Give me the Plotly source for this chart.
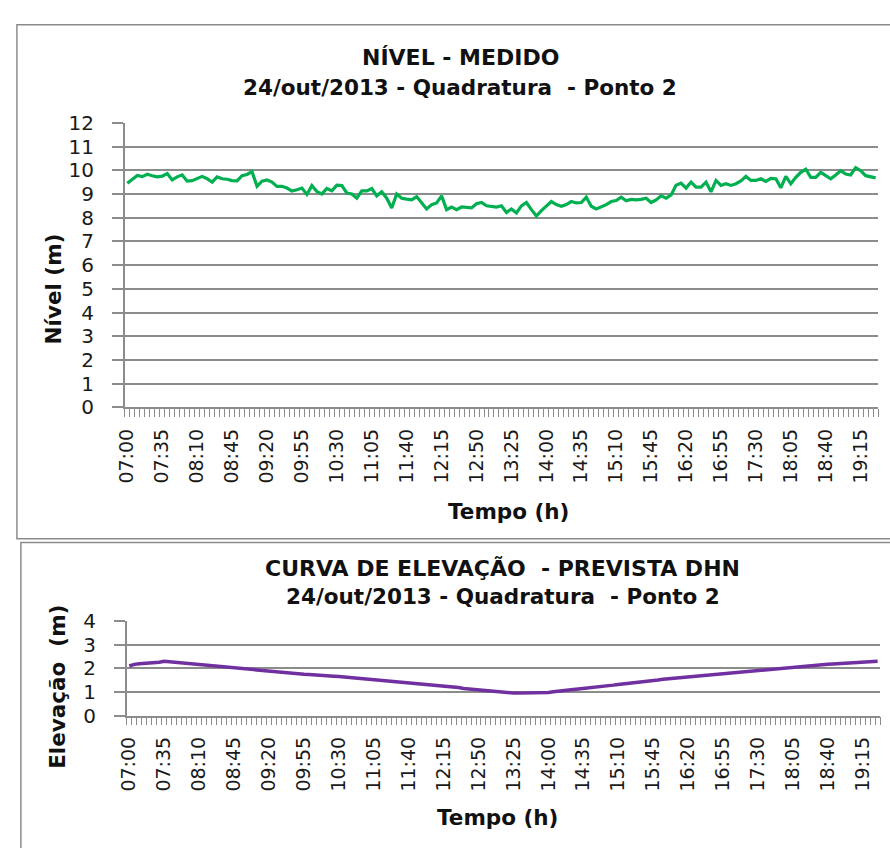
import plotly.graph_objects as go

# ---------------- data ----------------
start_minutes = 7 * 60
n_points = 151
times = ["%02d:%02d" % divmod(start_minutes + 5 * k, 60) for k in range(n_points)]

nivel = [
    9.45, 9.62, 9.78, 9.73, 9.83, 9.77, 9.72, 9.75, 9.86, 9.59,
    9.72, 9.80, 9.54, 9.56, 9.65, 9.74, 9.64, 9.50, 9.72, 9.64,
    9.62, 9.56, 9.55, 9.77, 9.82, 9.94, 9.32, 9.54, 9.59, 9.50,
    9.32, 9.32, 9.25, 9.12, 9.18, 9.25, 8.98, 9.35, 9.10, 9.00,
    9.23, 9.13, 9.37, 9.35, 9.04, 9.00, 8.82, 9.13, 9.13, 9.23,
    8.92, 9.09, 8.82, 8.41, 9.00, 8.82, 8.78, 8.75, 8.89, 8.62,
    8.37, 8.55, 8.62, 8.92, 8.34, 8.45, 8.34, 8.45, 8.42, 8.41,
    8.59, 8.64, 8.50, 8.48, 8.45, 8.50, 8.22, 8.37, 8.20, 8.50,
    8.64, 8.34, 8.07, 8.30, 8.48, 8.68, 8.55, 8.48, 8.55, 8.68,
    8.62, 8.64, 8.86, 8.48, 8.37, 8.45, 8.55, 8.68, 8.72, 8.86,
    8.71, 8.77, 8.75, 8.77, 8.82, 8.64, 8.75, 8.92, 8.82, 8.96,
    9.37, 9.46, 9.25, 9.50, 9.29, 9.29, 9.50, 9.09, 9.57, 9.36,
    9.43, 9.36, 9.43, 9.55, 9.74, 9.57, 9.57, 9.64, 9.53, 9.66,
    9.64, 9.26, 9.74, 9.43, 9.70, 9.91, 10.04, 9.70, 9.70, 9.91,
    9.77, 9.64, 9.80, 9.98, 9.84, 9.80, 10.11, 9.98, 9.77, 9.72,
    9.68,
]

elevacao = [
    2.10, 2.17, 2.20, 2.21, 2.22, 2.23, 2.26, 2.30, 2.28, 2.25,
    2.22, 2.20, 2.19, 2.16, 2.14, 2.12, 2.11, 2.10, 2.08, 2.07,
    2.05, 2.03, 1.99, 1.97, 1.95, 1.93, 1.91, 1.90, 1.88, 1.86,
    1.84, 1.82, 1.81, 1.79, 1.77, 1.75, 1.74, 1.72, 1.71, 1.70,
    1.69, 1.67, 1.66, 1.64, 1.62, 1.60, 1.58, 1.56, 1.54, 1.52,
    1.50, 1.49, 1.48, 1.47, 1.45, 1.43, 1.41, 1.39, 1.37, 1.35,
    1.33, 1.31, 1.29, 1.27, 1.25, 1.22, 1.19, 1.15, 1.13, 1.11,
    1.08, 1.06, 1.04, 1.01, 0.99, 0.97, 0.95, 0.95, 0.95, 0.95,
    0.95, 0.95, 0.95, 0.96, 0.98, 1.01, 1.04, 1.06, 1.08, 1.10,
    1.12, 1.14, 1.16, 1.18, 1.21, 1.24, 1.27, 1.29, 1.32, 1.34,
    1.36, 1.38, 1.41, 1.44, 1.46, 1.49, 1.51, 1.54, 1.56, 1.59,
    1.61, 1.63, 1.64, 1.66, 1.68, 1.70, 1.72, 1.74, 1.76, 1.78,
    1.80, 1.82, 1.84, 1.86, 1.88, 1.90, 1.92, 1.94, 1.96, 1.98,
    2.00, 2.02, 2.04, 2.06, 2.08, 2.10, 2.12, 2.13, 2.15, 2.16,
    2.18, 2.19, 2.20, 2.21, 2.23, 2.25, 2.27, 2.28, 2.29, 2.30,
    2.30,
]

label_step = 7
title1_a = "NÍVEL - MEDIDO"
title2_a = "CURVA DE ELEVAÇÃO\u00a0 - PREVISTA DHN"
subtitle = "24/out/2013 - Quadratura\u00a0 - Ponto 2"
xtitle = "Tempo (h)"
ytitle1 = "Nível (m)"
ytitle2 = "Elevação\u00a0 (m)"

# ---------------- figure ----------------
W, H = 890, 848
def px(x): return x / W
def py(y): return 1 - y / H

idx = list(range(len(times)))
GRAY = "#8c8c8c"
FONT = "DejaVu Sans"

fig = go.Figure()
fig.add_trace(go.Scatter(x=idx, y=nivel, mode="lines",
                         line=dict(color="#00b050", width=3.2),
                         xaxis="x", yaxis="y", showlegend=False, hoverinfo="skip"))
fig.add_trace(go.Scatter(x=idx, y=elevacao, mode="lines",
                         line=dict(color="#7030a0", width=3.5),
                         xaxis="x2", yaxis="y2", showlegend=False, hoverinfo="skip"))

def xaxis_cfg(x0, x1, anchor):
    return dict(
        domain=[px(x0), px(x1)], anchor=anchor,
        range=[-0.5, len(times) - 0.5],
        tickmode="array", tickvals=idx[::label_step], ticktext=times[::label_step],
        tickangle=-90, ticks="", showgrid=False, zeroline=False,
        showline=True, linecolor=GRAY, linewidth=1.5,
        tickfont=dict(family=FONT, size=19, color="#1a1a1a"),
        ticklabelstandoff=12,
        minor=dict(ticks="outside", ticklen=8, tickcolor=GRAY, tickwidth=1,
                   tickmode="linear", tick0=-0.5, dtick=1, showgrid=False),
    )

def yaxis_cfg(y_bottom, y_top, rng, anchor):
    return dict(
        domain=[py(y_bottom), py(y_top)], anchor=anchor,
        range=rng, dtick=1, tick0=0,
        ticks="outside", ticklen=11, tickcolor=GRAY, tickwidth=1.5,
        showgrid=True, gridcolor=GRAY, gridwidth=1.5,
        showline=True, linecolor=GRAY, linewidth=1.5, zeroline=False,
        tickfont=dict(family=FONT, size=20, color="#1a1a1a"),
        ticklabelstandoff=14,
    )

fig.update_layout(
    width=W, height=H, margin=dict(l=0, r=0, t=0, b=0),
    paper_bgcolor="white", plot_bgcolor="white",
    xaxis=xaxis_cfg(117, 878, "y"),
    yaxis=yaxis_cfg(407, 114, [0, 12], "x"),
    xaxis2=xaxis_cfg(119, 880, "y2"),
    yaxis2=yaxis_cfg(724, 627, [0, 4], "x2"),
)

def ann(text, x, y, size=21, angle=0):
    fig.add_annotation(text="<b>%s</b>" % text, x=px(x), y=py(y), xref="paper", yref="paper",
                       showarrow=False, xanchor="center", yanchor="middle", textangle=angle,
                       font=dict(family=FONT, size=size, color="#111111"))

ann(title1_a, 456, 47, size=22)
ann(subtitle, 456, 78, size=21.5)
ann(xtitle, 505, 514, size=21.5)
ann(ytitle1, 45, 285, size=21.5, angle=-90)
ann(title2_a, 499, 573, size=22)
ann(subtitle, 499, 602, size=21.5)
ann(xtitle, 493, 829, size=21.5)
ann(ytitle2, 49, 695, size=21.5, angle=-90)

fig.add_shape(type="rect", xref="paper", yref="paper",
              x0=px(8), x1=px(900), y0=py(542), y1=py(13),
              line=dict(color=GRAY, width=1.5), layer="below")
fig.add_shape(type="rect", xref="paper", yref="paper",
              x0=px(12), x1=px(900), y0=py(870), y1=py(546),
              line=dict(color=GRAY, width=1.5), layer="below")

fig.write_html("out.html")
